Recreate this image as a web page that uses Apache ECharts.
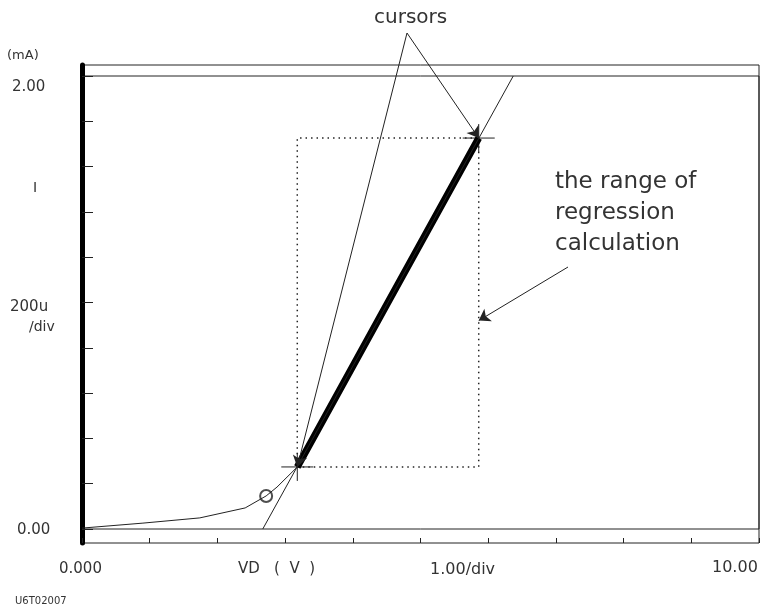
<!DOCTYPE html>
<html>
<head>
<meta charset="utf-8">
<script src="https://cdn.jsdelivr.net/npm/echarts@6/dist/echarts.min.js"></script>
<style>
  html, body { margin: 0; padding: 0; background: #fff; }
  #chart { width: 780px; height: 609px; }
</style>
</head>
<body>
<div id="chart"></div>
<script>
// measured VD–ID curve up to the lower cursor (V, mA)
const curveV = [0, 0.9, 1.74, 2.41, 2.72, 2.88, 3.18];
const curveI = [0.004, 0.026, 0.049, 0.093, 0.146, 0.185, 0.274];
// measured points between the two cursors (drawn bold)
const rangeV = [3.18, 4.5, 5.86];
const rangeI = [0.274, 0.99, 1.726];
// cursor positions
const cursorV = [3.18, 5.86];
const cursorI = [0.274, 1.726];
// regression line end points
const regrV = [2.67, 6.37];
const regrI = [0, 2.0];
// small circle marker on the curve
const markV = [2.72];
const markI = [0.146];
// where the "range" arrow touches the dotted box
const rangeArrowI = 0.92;

const xMin = 0, xMax = 10, xStep = 1;
const yMin = 0, yMax = 2, yStep = 0.2;

const ink = "#222";
const txt = "#333";
const font = "DejaVu Sans";

const zip = (a, b) => a.map((v, i) => [v, b[i]]);

const chart = echarts.init(document.getElementById("chart"));

chart.setOption({
  backgroundColor: "#fff",
  animation: false,
  grid: [
    // data area: 0 mA .. 2 mA
    { left: 82, right: 21, top: 76, bottom: 80, show: true, borderColor: ink, borderWidth: 1 },
    // outer frame
    { left: 82, right: 21, top: 65, bottom: 66, show: true, borderColor: ink, borderWidth: 1 },
  ],
  xAxis: [
    {
      gridIndex: 0, type: "value", min: xMin, max: xMax, interval: xStep,
      axisLine: { show: false }, axisTick: { show: false },
      axisLabel: { show: false }, splitLine: { show: false },
    },
    {
      gridIndex: 1, type: "value", min: xMin, max: xMax, interval: xStep,
      axisLine: { show: false },
      axisTick: { show: true, inside: true, length: 5, lineStyle: { color: ink } },
      axisLabel: { show: false }, splitLine: { show: false },
    },
  ],
  yAxis: [
    {
      gridIndex: 0, type: "value", min: yMin, max: yMax, interval: yStep,
      axisLine: { show: false },
      axisTick: { show: true, inside: true, length: 11, lineStyle: { color: ink } },
      axisLabel: { show: false }, splitLine: { show: false },
    },
    {
      gridIndex: 1, type: "value", min: 0, max: 1,
      axisLine: { show: true, lineStyle: { color: "#000", width: 5 } },
      axisTick: { show: false }, axisLabel: { show: false }, splitLine: { show: false },
    },
  ],
  series: [
    {
      name: "curve", type: "line", xAxisIndex: 0, yAxisIndex: 0,
      data: zip(curveV, curveI), showSymbol: false,
      lineStyle: { color: ink, width: 1 },
    },
    {
      name: "range", type: "line", xAxisIndex: 0, yAxisIndex: 0,
      data: zip(rangeV, rangeI), showSymbol: false,
      lineStyle: { color: "#000", width: 7 },
      markArea: {
        silent: true,
        itemStyle: { color: "rgba(0,0,0,0)", borderColor: ink, borderWidth: 1.5, borderType: [1.5, 4] },
        data: [[{ coord: [cursorV[0], cursorI[0]] }, { coord: [cursorV[1], cursorI[1]] }]],
      },
    },
    {
      name: "regression", type: "line", xAxisIndex: 0, yAxisIndex: 0,
      data: zip(regrV, regrI), showSymbol: false, clip: false,
      lineStyle: { color: ink, width: 1 },
      markLine: {
        silent: true,
        symbol: ["none", "arrow"],
        symbolSize: 11,
        label: { show: false },
        lineStyle: { color: ink, width: 1, type: "solid" },
        data: [
          [{ x: 407, y: 33 }, { coord: [cursorV[0], cursorI[0]] }],
          [{ x: 407, y: 33 }, { coord: [cursorV[1], cursorI[1]] }],
          [{ x: 568, y: 267 }, { coord: [cursorV[1], rangeArrowI] }],
        ],
      },
    },
    {
      name: "mark", type: "scatter", xAxisIndex: 0, yAxisIndex: 0,
      data: zip(markV, markI), symbol: "emptyCircle", symbolSize: 12,
      itemStyle: { color: ink, borderColor: ink, borderWidth: 1 },
    },
    {
      name: "cursors", type: "custom", xAxisIndex: 0, yAxisIndex: 0,
      data: zip(cursorV, cursorI),
      renderItem: function (params, api) {
        const p = api.coord([api.value(0), api.value(1)]);
        const st = { stroke: ink, lineWidth: 1 };
        return {
          type: "group",
          children: [
            { type: "line", shape: { x1: p[0] - 16, y1: p[1], x2: p[0] + 16, y2: p[1] }, style: st },
            { type: "line", shape: { x1: p[0], y1: p[1] - 14, x2: p[0], y2: p[1] + 14 }, style: st },
          ],
        };
      },
    },
  ],
  graphic: [
    { type: "text", left: 7, top: 49, style: { text: "(mA)", font: "13px " + font, fill: txt } },
    { type: "text", left: 12, top: 80, style: { text: "2.00", font: "15px " + font, fill: txt } },
    { type: "text", left: 33, top: 181, style: { text: "I", font: "14px " + font, fill: txt } },
    { type: "text", left: 10, top: 300, style: { text: "200u", font: "15px " + font, fill: txt } },
    { type: "text", left: 29, top: 320, style: { text: "/div", font: "14px " + font, fill: txt } },
    { type: "text", left: 17, top: 523, style: { text: "0.00", font: "15px " + font, fill: txt } },
    { type: "text", left: 59, top: 562, style: { text: "0.000", font: "15px " + font, fill: txt } },
    { type: "text", left: 238, top: 562, style: { text: "VD   (  V  )", font: "15px " + font, fill: txt } },
    { type: "text", left: 430, top: 562, style: { text: "1.00/div", font: "16px " + font, fill: txt } },
    { type: "text", left: 712, top: 560, style: { text: "10.00", font: "16px " + font, fill: txt } },
    { type: "text", left: 15, top: 596, style: { text: "U6T02007", font: "10px " + font, fill: txt } },
    { type: "text", left: 374, top: 8, style: { text: "cursors", font: "20px " + font, fill: txt } },
    {
      type: "text", left: 555, top: 167,
      style: { text: "the range of\nregression\ncalculation", font: "23px " + font, lineHeight: 31, fill: txt },
    },
  ],
});
</script>
</body>
</html>
